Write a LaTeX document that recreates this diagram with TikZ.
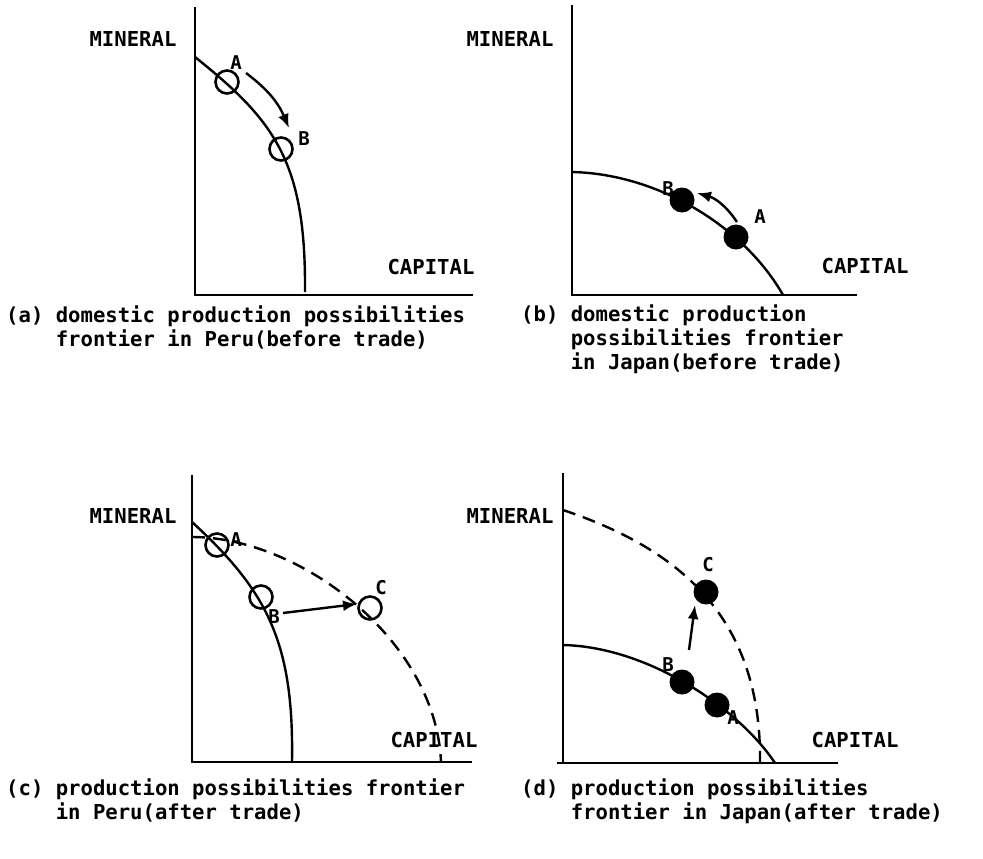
\documentclass[tikz,border=0pt]{standalone}
\usepackage{fontspec}
\setmonofont{DejaVu Sans Mono}
\usetikzlibrary{arrows.meta, positioning}

\begin{document}
\begin{tikzpicture}[
    x=1pt, y=-1pt,
    every node/.style={font=\ttfamily\bfseries\fontsize{20.6}{24}\selectfont},
    axis/.style={line width=2.8pt},
    frontier/.style={line width=2.4pt},
    tradefrontier/.style={line width=2.4pt, dash pattern=on 13pt off 8pt},
    opendot/.style={circle, draw, line width=2.6pt, minimum size=23pt, inner sep=0pt},
    fulldot/.style={circle, fill, minimum size=25pt, inner sep=0pt},
    arrow/.style={line width=2.4pt, -{Latex[length=14pt, width=11pt]}},
    caption/.style={anchor=base west, align=left, inner sep=0pt},
    axislabel/.style={inner sep=0pt},
    pointlabel/.style={inner sep=0pt, font=\ttfamily\bfseries\fontsize{19}{20}\selectfont}
]
\useasboundingbox (0,0) rectangle (983,859);

% (a) Peru before trade
\draw[axis] (195,7) -- (195,295) -- (473,295);
\draw[frontier] (195,57) .. controls (275,121) and (306,162) .. (305,292);
\node[opendot] (peruA) at (227,82) {};
\node[opendot] (peruB) at (281,149) {};
\node[pointlabel] (peruAlab) at (236,63) {A};
\node[pointlabel] (peruBlab) at (304,139) {B};
\coordinate (peruFrom) at (246,73);
\coordinate (peruTo) at (289,128);
\draw[arrow] (peruFrom) to[bend left=15] (peruTo);
\node[axislabel] (peruMin) at (133,39) {MINERAL};
\node[axislabel] (peruCap) at (431,267) {CAPITAL};
\node[caption] (capA) at (6,346) {(a) domestic production possibilities\\\phantom{(a)}\ frontier in Peru(before trade)};

% (b) Japan before trade
\draw[axis] (572,5) -- (572,295) -- (857,295);
\draw[frontier] (572,172) .. controls (660,174) and (745,228) .. (783,295);
\node[fulldot] (japB) at (682,200) {};
\node[fulldot] (japA) at (736,237) {};
\node[pointlabel] (japBlab) at (668,189) {B};
\node[pointlabel] (japAlab) at (760,217) {A};
\coordinate (japFrom) at (737,222);
\coordinate (japTo) at (697,193);
\draw[arrow] (japFrom) to[bend right=20] (japTo);
\node[axislabel] (japMin) at (510,39) {MINERAL};
\node[axislabel] (japCap) at (865,266) {CAPITAL};
\node[caption] (capB) at (521,369) {(b) domestic production\\\phantom{(b)}\ possibilities frontier\\\phantom{(b)}\ in Japan(before trade)};

% (c) Peru after trade
\draw[axis] (192,475) -- (192,762) -- (472,762);
\draw[frontier] (192,522) .. controls (267,591) and (294,642) .. (292,762);
\draw[tradefrontier] (192,537) .. controls (300,537) and (436,640) .. (441,762);
\node[opendot] (tperuA) at (217,545) {};
\node[opendot] (tperuB) at (261,597) {};
\node[opendot] (tperuC) at (370,608) {};
\node[pointlabel] (tperuAlab) at (236,540) {A};
\node[pointlabel] (tperuBlab) at (274,617) {B};
\node[pointlabel] (tperuClab) at (381,588) {C};
\coordinate (tperuFrom) at (283,613);
\coordinate (tperuTo) at (357,604);
\draw[arrow] (tperuFrom) -- (tperuTo);
\node[axislabel] (tperuMin) at (133,516) {MINERAL};
\node[axislabel] (tperuCap) at (434,740) {CAPITAL};
\node[caption] (capC) at (6,819) {(c) production possibilities frontier\\\phantom{(c)}\ in Peru(after trade)};

% (d) Japan after trade
\draw[axis] (563,473) -- (563,763);
\draw[axis] (557,763) -- (838,763);
\draw[frontier] (563,645) .. controls (650,647) and (740,710) .. (775,763);
\draw[tradefrontier] (563,510) .. controls (670,546) and (762,610) .. (760,763);
\node[fulldot] (tjapC) at (706,592) {};
\node[fulldot] (tjapB) at (682,682) {};
\node[fulldot] (tjapA) at (717,705) {};
\node[pointlabel] (tjapClab) at (708,565) {C};
\node[pointlabel] (tjapBlab) at (668,665) {B};
\node[pointlabel] (tjapAlab) at (733,718) {A};
\coordinate (tjapFrom) at (689,650);
\coordinate (tjapTo) at (695,605);
\draw[arrow] (tjapFrom) -- (tjapTo);
\node[axislabel] (tjapMin) at (510,516) {MINERAL};
\node[axislabel] (tjapCap) at (855,740) {CAPITAL};
\node[caption] (capD) at (521,819) {(d) production possibilities\\\phantom{(d)}\ frontier in Japan(after trade)};

\end{tikzpicture}
\end{document}
